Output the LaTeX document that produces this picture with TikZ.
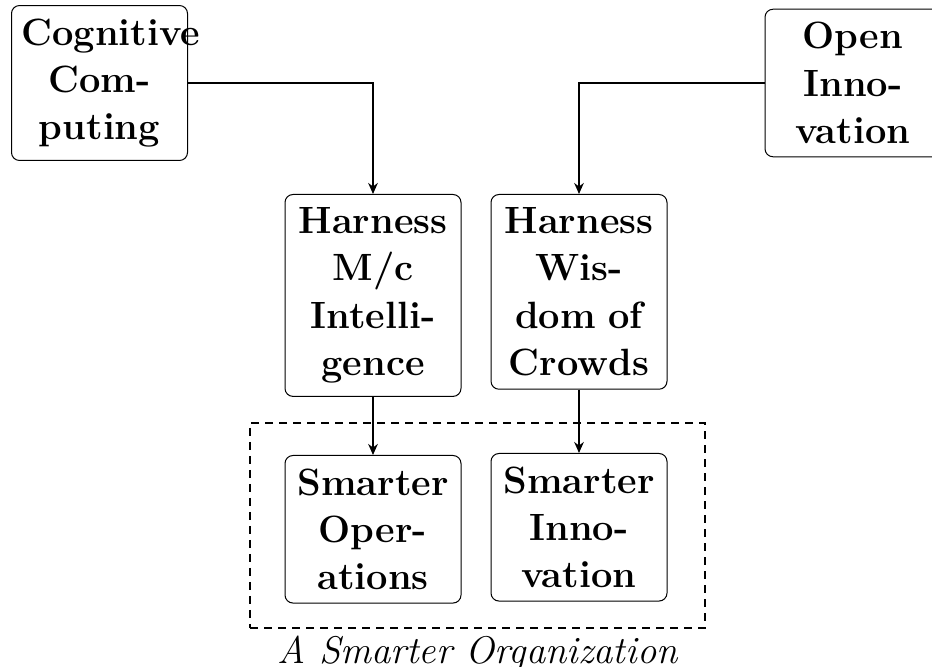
\documentclass[tikz,border=0pt]{standalone}
\usetikzlibrary{arrows.meta,positioning}
\begin{document}
\begin{tikzpicture}[x=0.5pt,y=-0.5pt,
  box/.style={draw, line width=0.5pt, rounded corners=4pt, text width=78pt,
    align=center, inner xsep=5pt, inner ysep=6.5pt,
    font=\fontsize{19pt}{23.7pt}\selectfont\bfseries},
  link/.style={line width=1pt, -{Stealth[length=5.5pt,width=4.8pt]}},
  groupbox/.style={draw, line width=1pt, dash pattern=on 4pt off 3pt,
    minimum width=227.5pt, minimum height=102.5pt, inner sep=0pt},
  grouplabel/.style={inner sep=3.3pt, font=\fontsize{19.3pt}{23.7pt}\selectfont\itshape}]
\useasboundingbox (0,0) rectangle (932,667);

% sources
\node[box] (cog) at (99.5,83) {Cognitive\\Com-\\puting};
\node[box] (open) at (853,83) {Open\\Inno-\\vation};

% harnessing stage
\node[box, anchor=north] (mc) at (373,194) {Harness\\M/c\\Intelli-\\gence};
\node[box, anchor=north] (woc) at (579,194) {Harness\\Wis-\\dom of\\Crowds};

% the organization
\node[groupbox] (org) at (477.5,525.5) {};
\node[grouplabel, below=0pt of org] (orglabel) {A Smarter Organization};
\node[box, anchor=north] (ops) at (373,455) {Smarter\\Oper-\\ations};
\node[box, anchor=north] (inn) at (579,453) {Smarter\\Inno-\\vation};

% connectors
\draw[link] (cog.east) -| (mc.north);
\draw[link] (open.west) -| (woc.north);
\draw[link] (mc.south) -- (ops.north);
\draw[link] (woc.south) -- (inn.north);
\end{tikzpicture}
\end{document}
